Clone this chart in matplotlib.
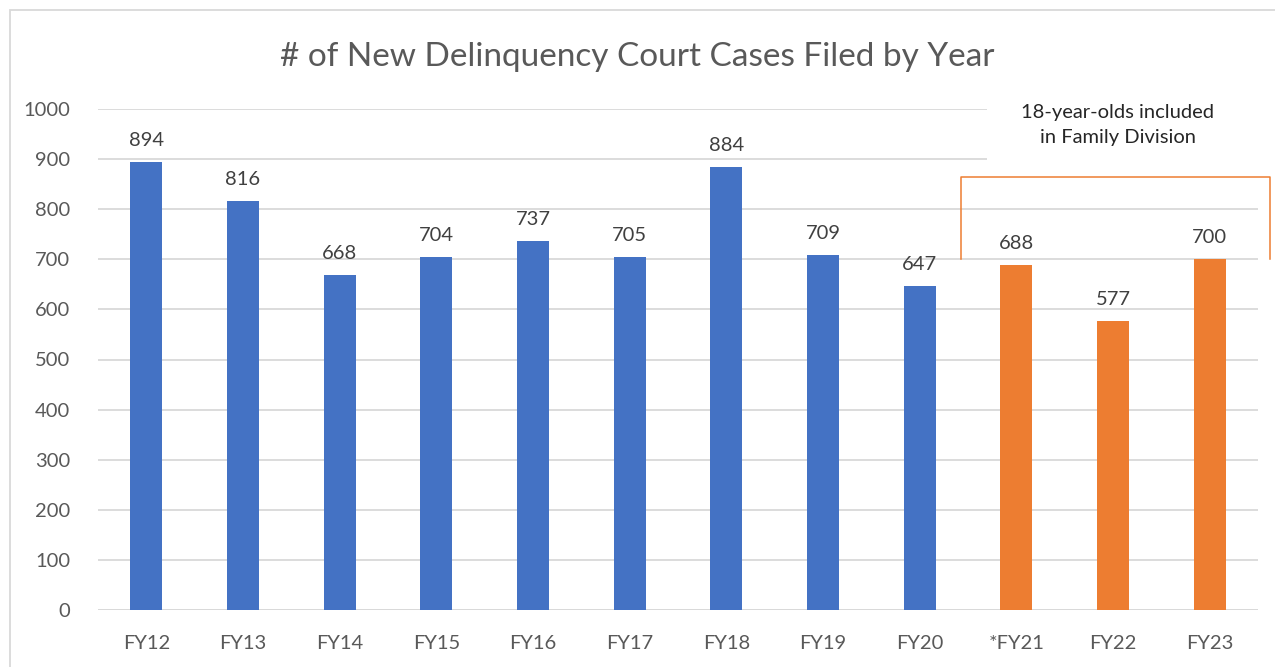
import matplotlib
matplotlib.use('Agg')
import matplotlib.pyplot as plt
from matplotlib.patches import Rectangle

# ── Data ──────────────────────────────────────────────────────────
years  = ['FY12', 'FY13', 'FY14', 'FY15', 'FY16', 'FY17',
          'FY18', 'FY19', 'FY20', '*FY21', 'FY22', 'FY23']
cases  = [894, 816, 668, 704, 737, 705, 884, 709, 647, 688, 577, 700]
n_blue = 9   # first 9 years before 18-year-olds were included

BLUE   = '#4472C4'
ORANGE = '#ED7D31'
colors = [BLUE] * n_blue + [ORANGE] * (len(years) - n_blue)

plt.rcParams['font.family'] = ['Lato', 'DejaVu Sans']

fig = plt.figure(figsize=(12.75, 6.67), dpi=100)
ax = fig.add_axes([98 / 1275, 57 / 667, 1160 / 1275, 501 / 667])

x = list(range(len(years)))
bars = ax.bar(x, cases, width=0.33, color=colors, zorder=3)
for xi, v in zip(x, cases):
    ax.text(xi, v + 26, str(v), ha='center', va='bottom',
            fontsize=14.5, color='#404040', zorder=4)

ax.set_xlim(-0.5, len(years) - 0.5)
ax.set_ylim(0, 1000)
ax.set_yticks(range(0, 1001, 100))
ax.set_xticks(x)
ax.set_xticklabels(years)
ax.tick_params(axis='both', length=0, labelsize=14.5, colors='#595959')
ax.tick_params(axis='y', pad=20)
ax.tick_params(axis='x', pad=18)
ax.yaxis.grid(True, color='#D9D9D9', linewidth=1.3, zorder=0)
for s in ax.spines.values():
    s.set_visible(False)
ax.axhline(0, color='#D9D9D9', linewidth=1.3, zorder=2)

# annotation: white box hides the gridlines behind the note
ax.add_patch(Rectangle((8.70, 885), 3.0, 130, facecolor='white',
                       edgecolor='none', zorder=2.5, clip_on=False))
ax.text(10.05, 968, '18-year-olds included\nin Family Division',
        ha='center', va='center', fontsize=14.5, color='#262626',
        linespacing=1.55, zorder=4)

# orange bracket around FY21-FY23
bx0, bx1, btop, bbot = 8.43, 11.62, 865, 700
ax.plot([bx0, bx0, bx1, bx1], [bbot, btop, btop, bbot],
        color=ORANGE, linewidth=1.1, clip_on=False, zorder=4)

fig.text(0.5, 1 - 57 / 667, '# of New Delinquency Court Cases Filed by Year',
         ha='center', va='center', fontsize=24, color='#595959')

# chart outline
fig.patches.append(Rectangle((10 / 1275, -0.02), 1.05, 1 - 10 / 667 + 0.02,
                             transform=fig.transFigure, fill=False,
                             edgecolor='#D9D9D9', linewidth=1.3))

fig.savefig('out.png', dpi=100)
